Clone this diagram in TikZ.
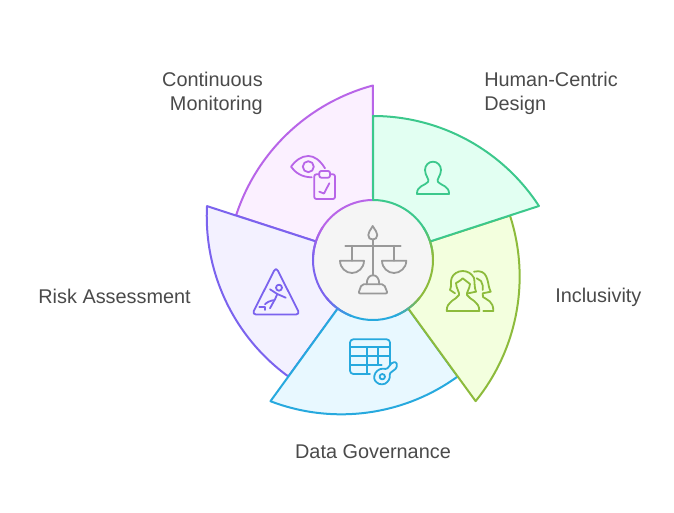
\documentclass[tikz,border=0pt]{standalone}
\usepackage{fontspec}
\setmainfont{Liberation Sans}
\definecolor{monitorline}{HTML}{B865E8}
\definecolor{monitorfill}{HTML}{FBF0FF}
\definecolor{riskline}{HTML}{7B63EE}
\definecolor{riskfill}{HTML}{F3F1FF}
\definecolor{dataline}{HTML}{27A9DE}
\definecolor{datafill}{HTML}{E8F8FF}
\definecolor{inclusiveline}{HTML}{8DBB3C}
\definecolor{inclusivefill}{HTML}{F3FFDE}
\definecolor{humanline}{HTML}{3CC88C}
\definecolor{humanfill}{HTML}{E2FFF2}
\definecolor{hubfill}{HTML}{F5F5F5}
\definecolor{hubline}{HTML}{999999}
\definecolor{labeltext}{HTML}{4A4A4A}
\tikzset{
  sectorline/.style={line width=1.5pt},
  iconline/.style={line width=1.35pt},
  label/.style={font=\fontsize{14.9}{18}\selectfont,text=labeltext,inner sep=0pt},
}
\begin{document}
\begin{tikzpicture}[line cap=round,line join=round,x=0.75pt,y=0.75pt]
\useasboundingbox (-373,-253) rectangle (301,260);
\node[circle,fill=hubfill,minimum size=90pt,inner sep=0pt] (hub) at (0,0) {};
\foreach \a/\fillc/\linec in {162/monitorfill/monitorline,234/riskfill/riskline,306/datafill/dataline,18/inclusivefill/inclusiveline,90/humanfill/humanline}
  \draw[sectorline,fill=\fillc,draw=\linec] (\a:60) -- (\a:144)
    arc[start angle=\a,end angle=\a-56.95,radius=198] -- (\a-72:60)
    arc[start angle=\a-72,end angle=\a,radius=60] -- cycle;
\foreach \a/\cola/\colb in {162/monitorline/riskline,234/riskline/dataline,306/dataline/inclusiveline,18/inclusiveline/humanline}
  \foreach \i in {0,10,...,90}
    \draw[sectorline,line cap=butt,draw=\colb!\i!\cola] (\a-15+0.3*\i:60) arc[start angle=\a-15+0.3*\i,end angle=\a-12+0.3*\i,radius=60];
\begin{scope}[shift={(-373,260)},yscale=-1]
\node[label,anchor=east,align=right] (monitorlabel) at (263,93) {Continuous\\Monitoring};
\node[label,anchor=west,align=left] (humanlabel) at (484,93) {Human-Centric\\Design};
\node[label,anchor=east] (risklabel) at (191,296) {Risk Assessment};
\node[label,anchor=west] (inclusivelabel) at (555,297) {Inclusivity};
\node[label] (datalabel) at (373,452) {Data Governance};
% scales
\begin{scope}[iconline,draw=hubline]
\draw (372.7,226) .. controls (370,231) and (368.3,232) .. (368.3,235) .. controls (368.3,238) and (370,239.5) .. (372.7,239.5) .. controls (375.4,239.5) and (377.3,238) .. (377.3,235) .. controls (377.3,232) and (375.4,231) .. (372.7,226) -- cycle;
\draw (372.7,239.5) -- (372.7,275);
\draw (345.3,245.7) -- (400.7,245.7);
\draw (352,245.7) -- (352,260.7);
\draw (394,245.7) -- (394,260.7);
\draw (340,260.7) -- (364,260.7) .. controls (364,268) and (358,273) .. (352,273) .. controls (346,273) and (340,268) .. (340,260.7) -- cycle;
\draw (382,260.7) -- (406.3,260.7) .. controls (406.3,268) and (400,273) .. (394,273) .. controls (388,273) and (382,268) .. (382,260.7) -- cycle;
\draw (366.7,284.3) .. controls (366.7,278) and (369.5,275.3) .. (373,275.3) .. controls (376.5,275.3) and (379.3,278) .. (379.3,284.3);
\draw[rounded corners=1.5pt] (361.7,284.3) -- (384,284.3) -- (387.7,293.5) -- (358.3,293.5) -- cycle;
\end{scope}
% eye and clipboard
\begin{scope}[iconline,draw=monitorline]
\draw (325,168.3) .. controls (320,160) and (314,156) .. (308.3,156) .. controls (301,156) and (295,161) .. (291,166.7) .. controls (295,172.5) and (302,177.3) .. (311.7,177.3);
\draw (308.3,166.7) circle (5.5);
\draw[rounded corners=1.5pt] (319.3,174.3) -- (314.3,174.3) -- (314.3,199) -- (335,199) -- (335,174.3) -- (330,174.3);
\draw[rounded corners=1.5pt] (319.3,171) rectangle (330,177.7);
\draw (319.3,191.7) -- (324,193.5) -- (329.3,183.3);
\end{scope}
% person
\draw[iconline,draw=humanline] (417,194) -- (449,194) .. controls (449.5,186) and (441,185.5) .. (438,182) .. controls (436,179.5) and (441,176) .. (441,170) .. controls (441,165) and (437,161.7) .. (433,161.7) .. controls (429,161.7) and (425,165) .. (425,170) .. controls (425,176) and (430,179.5) .. (428,182) .. controls (425,185.5) and (416.5,186) .. (417,194) -- cycle;
% two persons
\begin{scope}[iconline,draw=inclusiveline]
\draw (446.7,311) -- (479.3,311) .. controls (479.5,301) and (470,300) .. (467,295) .. controls (466,293) and (470,288) .. (470,284) -- (462.7,278.3) .. controls (460,281) and (458,282) .. (456,283) .. controls (456,288) and (460,293) .. (459,295) .. controls (456,300) and (446.5,301) .. (446.7,311) -- cycle;
\draw (455,293.3) -- (450,290) .. controls (452,286) and (450,282) .. (451.7,278) .. controls (453,274) and (458,271) .. (462.7,271) .. controls (468,271) and (472,274) .. (474,278) .. controls (475,282) and (474,287) .. (476,291.7) -- (468.3,293.3);
\draw (474,271.7) .. controls (477,271) and (480,271) .. (482,272) .. controls (486,274) and (487,278) .. (488,282) .. controls (488.5,285) and (489,288) .. (490.7,291.7) -- (482.7,293.3) -- (483,297) .. controls (487,300) and (493.5,301) .. (493.3,311) -- (483.3,311);
\draw (476.7,278.3) -- (481,281) .. controls (483,284) and (483,287) .. (482.7,290);
\end{scope}
% table and key
\begin{scope}[iconline,draw=dataline]
\draw[rounded corners=2.5pt] (370,374) -- (350,374) -- (350,339.3) -- (390,339.3) -- (390,365);
\draw (350,347.3) -- (390,347.3);
\draw (350,356) -- (390,356);
\draw (350,365) -- (381.7,365);
\draw (366.7,347.3) -- (366.7,374);
\draw (378.3,347.3) -- (378.3,365);
\draw (382.3,376.7) circle (2.7);
\draw[rounded corners=1pt] (386.7,369.3) .. controls (384,368.5) and (381,368.5) .. (378.5,370) .. controls (374,373) and (373.5,379) .. (376,381.5) .. controls (379,385) and (385,385) .. (388,381) .. controls (390,378.5) and (390,376) .. (389.3,373.7) -- (396.7,368) -- (396.7,362.3) -- (392.5,362.3) -- (390.5,364.5) -- cycle;
\end{scope}
% warning triangle
\begin{scope}[iconline,draw=riskline]
\draw[rounded corners=3pt] (276,267) -- (300,314.5) -- (252,314.5) -- cycle;
\draw (279,287.7) circle (3);
\draw (270,289.3) -- (277.3,294) -- (285.7,297.7);
\draw (277.3,294) -- (274.7,300) .. controls (271,300.5) and (267,302) .. (265,304.3);
\draw (274,301) -- (270,308.3);
\draw (259.3,307.3) -- (265,307.3) -- (265,310);
\end{scope}
\end{scope}
\end{tikzpicture}
\end{document}
